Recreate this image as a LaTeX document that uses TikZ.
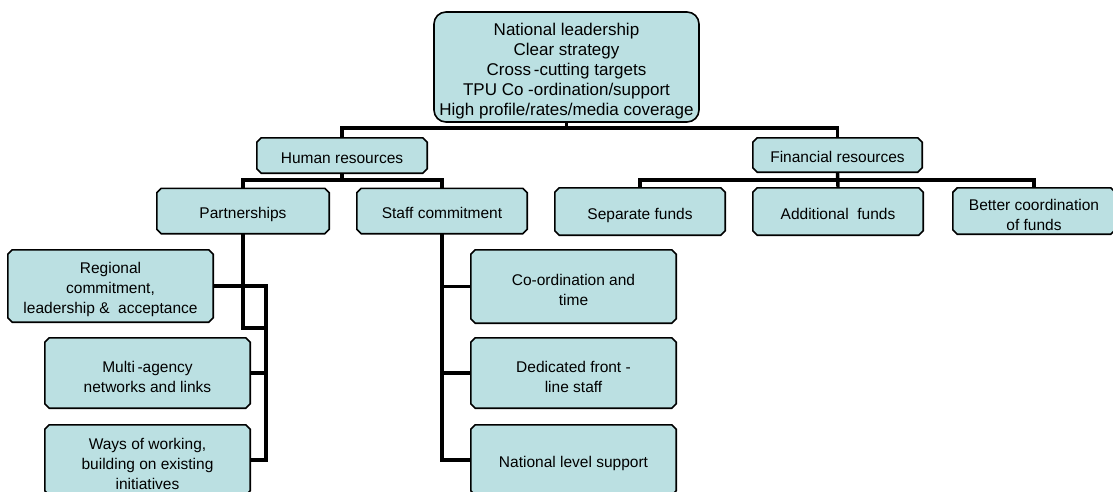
\documentclass[tikz,border=0pt]{standalone}
\usepackage{fontspec}
\setmainfont{Liberation Sans}
\definecolor{boxfill}{RGB}{187,224,226}
\tikzset{
  boxframe/.style={rectangle, inner sep=0pt},
  boxline/.style={draw=black, line width=1.6pt, fill=boxfill, line join=miter},
  topbox/.style={rectangle, rounded corners=12pt, draw=black, line width=1.6pt, fill=boxfill,
    inner sep=0pt},
  boxtext/.style={inner sep=0pt, align=center, font=\fontsize{15.5}{20}\selectfont},
  toptext/.style={inner sep=0pt, align=center, font=\fontsize{17}{19.8}\selectfont},
  link/.style={draw=black, line width=3.4pt}
}
\newlength\cham
\setlength\cham{4.5pt}
% \labbox{name}{width}{height}{centre}{text}: box with cut corners, caption set slightly low
\newcommand\labbox[5]{%
  \node[boxframe, minimum width=#2, minimum height=#3] (#1) at (#4) {};
  \filldraw[boxline]
    ([xshift=\cham]#1.north west) -- ([xshift=-\cham]#1.north east)
    -- ([yshift=-\cham]#1.north east) -- ([yshift=\cham]#1.south east)
    -- ([xshift=-\cham]#1.south east) -- ([xshift=\cham]#1.south west)
    -- ([yshift=\cham]#1.south west) -- ([yshift=-\cham]#1.north west) -- cycle;
  \node[boxtext] (#1-t) at ([yshift=-3.5pt]#1.center) {#5};}
\begin{document}
\begin{tikzpicture}[x=1pt,y=-1pt]
\useasboundingbox (0,0) rectangle (1113,491);

% boxes
\node[topbox, minimum width=265pt, minimum height=110pt] (top) at (566.5,67) {};
\node[toptext] (top-t) at ([yshift=-4pt]top.center)
  {National leadership\\Clear strategy\\Cross\,-cutting targets\\TPU Co -ordination/support\\High profile/rates/media coverage};
\labbox{hr}{170pt}{35pt}{342,155.5}{\strut Human resources}
\labbox{fin}{169pt}{34pt}{837.5,155}{\strut Financial resources}
\labbox{part}{172pt}{45pt}{243,211}{\strut Partnerships}
\labbox{staff}{170pt}{45pt}{442,211}{\strut Staff commitment}
\labbox{sep}{170pt}{47pt}{640,211.5}{\strut Separate funds}
\labbox{add}{170pt}{47pt}{838,211.5}{\strut Additional\ \ funds}
\labbox{better}{162pt}{46pt}{1034,211}{Better coordination\\of funds}
\labbox{reg}{205pt}{72pt}{110.5,286}{Regional\\commitment,\\leadership \&\ \ acceptance}
\labbox{multi}{205pt}{70pt}{147.5,373}{Multi\,-agency\\networks and links}
\labbox{ways}{205pt}{70pt}{147.5,460}{Ways of working,\\building on existing\\initiatives}
\labbox{coord}{205pt}{73pt}{573.5,286.5}{Co-ordination and\\time}
\labbox{ded}{205pt}{70pt}{573.5,373}{Dedicated front -\\line staff}
\labbox{nat}{205pt}{70pt}{573.5,460}{\strut National level support}

% bus points
\coordinate (b1) at (566.5,128);
\coordinate (b2) at (342,180);
\coordinate (b3) at (838,180);
\coordinate (p1) at (243,328);
\coordinate (p2) at (266,328);

% top level
\draw[link] (top.south) -- (b1);
\draw[link] (hr.north) |- (b1) -| (fin.north);

% human resources
\draw[link] (hr.south) -- (b2);
\draw[link] (part.north) |- (b2) -| (staff.north);

% financial resources
\draw[link] (fin.south) -- (add.north);
\draw[link] (sep.north) |- (b3) -| (better.north);

% partnerships
\draw[link] (part.south) -- (p1) -- (p2);
\draw[link] (reg.east) -| (p2);
\draw[link] (ways.east) -| (p2);
\draw[link] (multi.east) -- (multi.east -| p2);

% staff commitment
\draw[link] (staff.south) |- (nat.west);
\draw[link] (coord.west) -- (coord.west -| staff.south);
\draw[link] (ded.west) -- (ded.west -| staff.south);
\end{tikzpicture}
\end{document}
